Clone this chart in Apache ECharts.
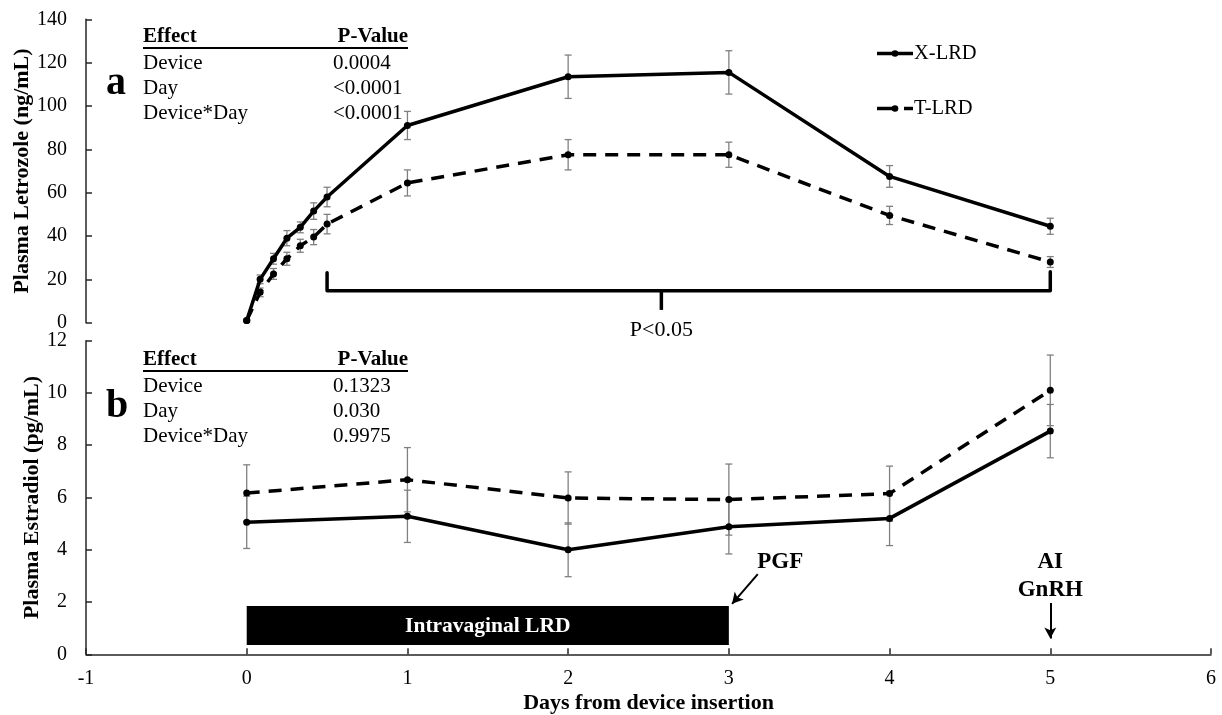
<!DOCTYPE html>
<html>
<head>
<meta charset="utf-8">
<title>Plasma letrozole and estradiol</title>
<script src="https://cdn.jsdelivr.net/npm/echarts@6/dist/echarts.min.js"></script>
<style>
  html, body { margin: 0; padding: 0; background: #fff; }
  #chart { width: 1222px; height: 715px; }
</style>
</head>
<body>
<div id="chart"></div>
<script>
// ---- Panel a: plasma letrozole (ng/mL), sampled every 2 h on day 0, then daily ----
const hoursA = [0, 2, 4, 6, 8, 10, 12, 24, 48, 72, 96, 120];
const xLrdA  = [1, 20, 29.5, 39, 44, 51.5, 58, 91, 113.5, 115.5, 67.5, 44.5];
const xSeA   = [0.5, 2, 2.5, 3.5, 2.5, 3.8, 4.5, 6.5, 10, 10, 5, 3.7];
const tLrdA  = [1, 14, 22.5, 29.5, 35.5, 39.5, 45.5, 64.5, 77.5, 77.5, 49.5, 28];
const tSeA   = [0.5, 2, 2.5, 3, 3, 3.5, 4.5, 6, 7, 5.8, 4.2, 2.5];

// ---- Panel b: plasma estradiol (pg/mL), daily ----
const daysB = [0, 1, 2, 3, 4, 5];
const xLrdB = [5.05, 5.28, 4.0, 4.88, 5.2, 8.54];
const xSeB  = [1.0, 1.0, 1.03, 1.04, 1.04, 1.02];
const tLrdB = [6.17, 6.68, 5.98, 5.92, 6.15, 10.1];
const tSeB  = [1.08, 1.23, 1.0, 1.36, 1.05, 1.35];

// ---- Axis ticks ----
const xTicks = [-1, 0, 1, 2, 3, 4, 5, 6];
const yTicksA = [0, 20, 40, 60, 80, 100, 120, 140];
const yTicksB = [0, 2, 4, 6, 8, 10, 12];

// ---- Statistics tables ----
const statsA = [['Device', '0.0004'], ['Day', '<0.0001'], ['Device*Day', '<0.0001']];
const statsB = [['Device', '0.1323'], ['Day', '0.030'], ['Device*Day', '0.9975']];

// ---- Annotations ----
const seriesNames = ['X-LRD', 'T-LRD'];
const lrdPeriod = [0, 3];          // intravaginal device in place (days)
const sigRange = [0.5, 5];         // days with P<0.05 between devices
const sigMid = 2.58;               // where the bracket's pointer sits
const pgfDay = 3, aiDay = 5;

const FONT = '"Liberation Serif", "Times New Roman", serif';
const daysA = hoursA.map(h => h / 24);
const pairs = (xs, ys) => xs.map((x, i) => [x, ys[i]]);
const errs = (xs, ys, se) => xs.map((x, i) => [x, ys[i] - se[i], ys[i] + se[i]]);

function renderErr(params, api) {
  const x = api.value(0);
  const lo = api.coord([x, api.value(1)]);
  const hi = api.coord([x, api.value(2)]);
  const w = 3.5;
  const style = { stroke: '#808080', lineWidth: 1.3 };
  return {
    type: 'group',
    children: [
      { type: 'line', shape: { x1: lo[0], y1: lo[1], x2: hi[0], y2: hi[1] }, style },
      { type: 'line', shape: { x1: hi[0] - w, y1: hi[1], x2: hi[0] + w, y2: hi[1] }, style },
      { type: 'line', shape: { x1: lo[0] - w, y1: lo[1], x2: lo[0] + w, y2: lo[1] }, style }
    ]
  };
}

function renderDeviceBar(params, api) {
  const a = api.coord([api.value(0), 1.85]);
  const b = api.coord([api.value(1), 0.36]);
  return {
    type: 'group',
    children: [
      { type: 'rect', shape: { x: a[0], y: a[1], width: b[0] - a[0], height: b[1] - a[1] }, style: { fill: '#000' } },
      { type: 'text', style: { text: 'Intravaginal LRD', x: (a[0] + b[0]) / 2, y: (a[1] + b[1]) / 2 + 1,
        align: 'center', verticalAlign: 'middle', fill: '#fff', font: 'bold 21.5px ' + FONT } }
    ]
  };
}

const solid = { color: '#000', width: 3.5, type: 'solid', cap: 'round', join: 'round' };
const dashed = { color: '#000', width: 3.5, type: [13, 9], cap: 'butt', join: 'round' };

const axisLineStyle = { color: '#262626', width: 1.5 };
const labelStyle = { color: '#000', fontFamily: FONT, fontSize: 20 };
const nameStyle = { color: '#000', fontFamily: FONT, fontSize: 22, fontWeight: 'bold' };

const xBase = {
  type: 'value', min: xTicks[0], max: xTicks[xTicks.length - 1], interval: 1,
  splitLine: { show: false }
};
const yBase = {
  type: 'value', splitLine: { show: false },
  axisLine: { show: true, onZero: false, lineStyle: axisLineStyle },
  axisTick: { show: true, inside: true, length: 6, lineStyle: axisLineStyle },
  axisLabel: Object.assign({ margin: 19 }, labelStyle),
  nameLocation: 'middle', nameRotate: 90, nameMoveOverlap: false, nameTextStyle: nameStyle
};
const chart = echarts.init(document.getElementById('chart'), null, { renderer: 'canvas' });

const option = {
  animation: false,
  backgroundColor: '#fff',
  grid: [
    { left: 86, right: 11, top: 19.3, height: 303.4, containLabel: false, outerBoundsMode: 'none' },
    { left: 86, right: 11, top: 340.7, height: 313.6, containLabel: false, outerBoundsMode: 'none' }
  ],
  xAxis: [
    Object.assign({}, xBase, { gridIndex: 0, show: false }),
    Object.assign({}, xBase, {
      gridIndex: 1,
      axisLine: { show: true, onZero: false, lineStyle: axisLineStyle },
      axisTick: { show: true, inside: true, length: 6, lineStyle: axisLineStyle },
      axisLabel: Object.assign({ margin: 14 }, labelStyle),
      name: 'Days from device insertion', nameLocation: 'middle', nameGap: 38,
      nameMoveOverlap: false, nameTextStyle: nameStyle
    })
  ],
  yAxis: [
    Object.assign({}, yBase, {
      gridIndex: 0, min: yTicksA[0], max: yTicksA[yTicksA.length - 1], interval: 20,
      name: 'Plasma Letrozole (ng/mL)', nameGap: 52.5
    }),
    Object.assign({}, yBase, {
      gridIndex: 1, min: yTicksB[0], max: yTicksB[yTicksB.length - 1], interval: 2,
      name: 'Plasma Estradiol (pg/mL)', nameGap: 43
    })
  ],
  series: [
    // error bars (drawn beneath the lines)
    { type: 'custom', xAxisIndex: 0, yAxisIndex: 0, renderItem: renderErr, data: errs(daysA, xLrdA, xSeA), z: 1, silent: true },
    { type: 'custom', xAxisIndex: 0, yAxisIndex: 0, renderItem: renderErr, data: errs(daysA, tLrdA, tSeA), z: 1, silent: true },
    { type: 'custom', xAxisIndex: 1, yAxisIndex: 1, renderItem: renderErr, data: errs(daysB, xLrdB, xSeB), z: 1, silent: true },
    { type: 'custom', xAxisIndex: 1, yAxisIndex: 1, renderItem: renderErr, data: errs(daysB, tLrdB, tSeB), z: 1, silent: true },

    // panel a lines
    { name: seriesNames[0], type: 'line', xAxisIndex: 0, yAxisIndex: 0, data: pairs(daysA, xLrdA),
      symbol: 'circle', symbolSize: 7, itemStyle: { color: '#000' }, lineStyle: solid, z: 3 },
    { name: seriesNames[1], type: 'line', xAxisIndex: 0, yAxisIndex: 0, data: pairs(daysA, tLrdA),
      symbol: 'circle', symbolSize: 7, itemStyle: { color: '#000' }, lineStyle: dashed, z: 3 },

    // panel b lines
    { name: seriesNames[0], type: 'line', xAxisIndex: 1, yAxisIndex: 1, data: pairs(daysB, xLrdB),
      symbol: 'circle', symbolSize: 7, itemStyle: { color: '#000' }, lineStyle: solid, z: 3 },
    { name: seriesNames[1], type: 'line', xAxisIndex: 1, yAxisIndex: 1, data: pairs(daysB, tLrdB),
      symbol: 'circle', symbolSize: 7, itemStyle: { color: '#000' }, lineStyle: dashed, z: 3 },

    // significance bracket over days 0.5 - 5
    { type: 'line', xAxisIndex: 0, yAxisIndex: 0, symbol: 'none', silent: true, clip: false,
      lineStyle: { color: '#000', width: 3.5, join: 'round', cap: 'round' },
      data: [[sigRange[0], 23], [sigRange[0], 14.8], [sigRange[1], 14.8], [sigRange[1], 23.5]] },
    { type: 'line', xAxisIndex: 0, yAxisIndex: 0, symbol: 'none', silent: true, clip: false,
      lineStyle: { color: '#000', width: 3.5, cap: 'butt' },
      data: [[sigMid, 14.8], [sigMid, 5.9]] },

    // device in place, with PGF and AI/GnRH arrows
    { type: 'custom', xAxisIndex: 1, yAxisIndex: 1, renderItem: renderDeviceBar, silent: true, z: 2,
      data: [[lrdPeriod[0], lrdPeriod[1]]],
      markLine: {
        silent: true, symbol: ['none', 'arrow'], symbolSize: [9, 11],
        label: { show: false },
        lineStyle: { color: '#000', width: 2, type: 'solid' },
        data: [
          [{ coord: [pgfDay + 0.18, 3.07] }, { coord: [pgfDay + 0.02, 1.93] }],
          [{ coord: [aiDay, 1.96] }, { coord: [aiDay, 0.6] }]
        ]
      }
    }
  ]
};
chart.setOption(option);

// Text annotations placed through the axes' own scales
const px = (grid, pt) => chart.convertToPixel({ gridIndex: grid }, pt);
const pText = px(0, [sigMid, 0]);
const pPgf = px(1, [pgfDay + 0.32, 3.5]);
const pAi = px(1, [aiDay, 3.5]);

function table(x0, y0, rows, letter) {
  const els = [];
  const txt = (text, x, y, opts) => ({
    type: 'text', style: Object.assign({ text, x, y, fill: '#000', font: '21px ' + FONT, verticalAlign: 'middle' }, opts || {})
  });
  els.push(txt('Effect', x0, y0, { font: 'bold 21px ' + FONT }));
  els.push(txt('P-Value', x0 + 265, y0, { font: 'bold 21px ' + FONT, align: 'right' }));
  els.push({ type: 'line', shape: { x1: x0, y1: y0 + 11, x2: x0 + 265, y2: y0 + 11 }, style: { stroke: '#000', lineWidth: 2 } });
  rows.forEach((r, i) => {
    els.push(txt(r[0], x0, y0 + 26 + i * 25));
    els.push(txt(r[1], x0 + 190, y0 + 26 + i * 25));
  });
  els.push(txt(letter, x0 - 37, y0 + 47, { font: 'bold 40px ' + FONT }));
  return els;
}

// Key: line sample with a marker, then the series name
function legendItem(x, y, name, isDashed) {
  const ls = { stroke: '#000', lineWidth: 3.5 };
  const parts = isDashed
    ? [{ type: 'line', shape: { x1: x, y1: y, x2: x + 19, y2: y }, style: ls },
       { type: 'line', shape: { x1: x + 27, y1: y, x2: x + 36, y2: y }, style: ls },
       { type: 'circle', shape: { cx: x + 18, cy: y, r: 3.3 }, style: { fill: '#000' } }]
    : [{ type: 'line', shape: { x1: x, y1: y, x2: x + 36, y2: y }, style: ls },
       { type: 'circle', shape: { cx: x + 18, cy: y, r: 3.3 }, style: { fill: '#000' } }];
  parts.push({ type: 'text', style: { text: name, x: x + 37, y: y, verticalAlign: 'middle', fill: '#000', font: '20.5px ' + FONT } });
  return parts;
}

const bold23 = 'bold 23px ' + FONT;
chart.setOption({
  graphic: [].concat(
    table(143, 37, statsA, 'a'),
    table(143, 360, statsB, 'b'),
    legendItem(877, 53.5, seriesNames[0], false),
    legendItem(877, 108.5, seriesNames[1], true),
    [
      { type: 'text', style: { text: 'P<0.05', x: pText[0], y: 330, align: 'center', verticalAlign: 'middle', fill: '#000', font: '22px ' + FONT } },
      { type: 'text', style: { text: 'PGF', x: pPgf[0], y: 562, align: 'center', verticalAlign: 'middle', fill: '#000', font: bold23 } },
      { type: 'text', style: { text: 'AI', x: pAi[0], y: 562, align: 'center', verticalAlign: 'middle', fill: '#000', font: bold23 } },
      { type: 'text', style: { text: 'GnRH', x: pAi[0], y: 590, align: 'center', verticalAlign: 'middle', fill: '#000', font: bold23 } }
    ]
  )
});
</script>
</body>
</html>
